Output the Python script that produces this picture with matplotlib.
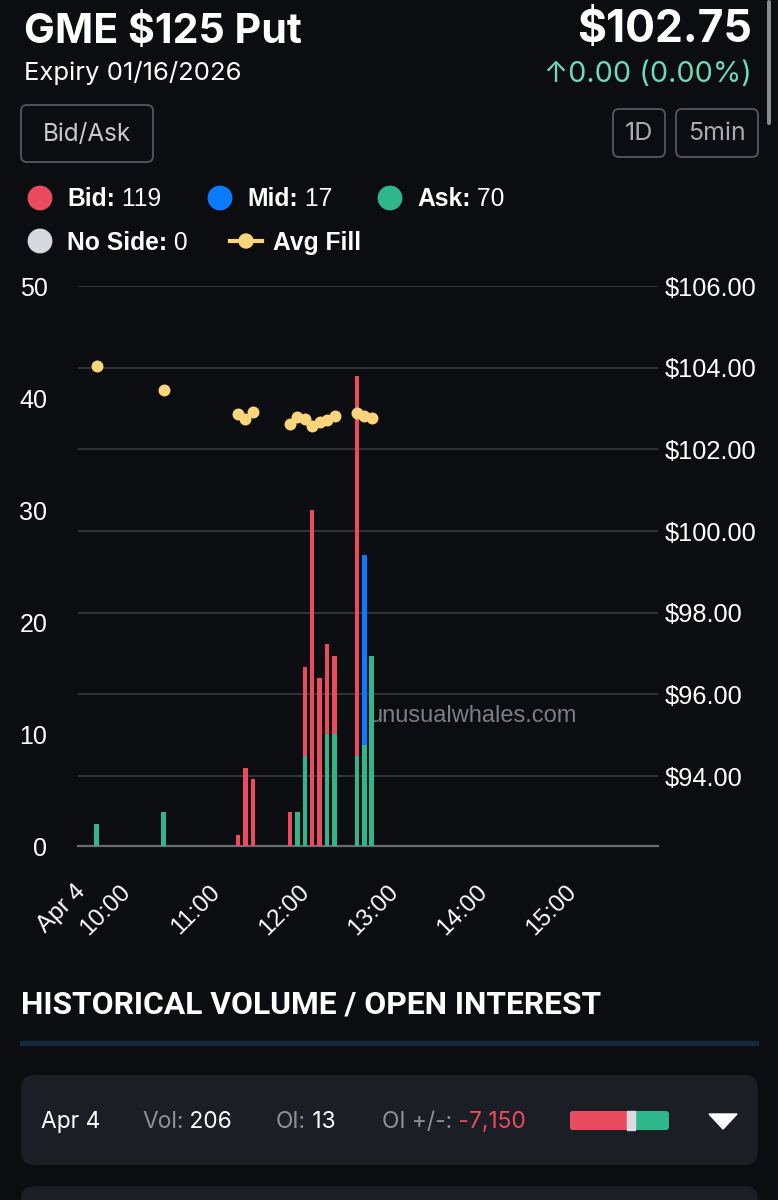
import matplotlib
matplotlib.use("Agg")
import matplotlib.pyplot as plt
from matplotlib.patches import FancyBboxPatch, Circle, Polygon, Rectangle
from matplotlib.transforms import ScaledTranslation
from matplotlib.lines import Line2D

# ---------------- data ----------------
times = ["09:40", "10:25", "11:15", "11:20", "11:25", "11:50", "11:55", "12:00",
         "12:05", "12:10", "12:15", "12:20", "12:35", "12:40", "12:45"]
ask = [2, 3, 0, 0, 0, 0, 3, 8, 0, 0, 10, 10, 8, 9, 17]
mid = [0, 0, 0, 0, 0, 0, 0, 0, 0, 0, 0, 0, 0, 17, 0]
bid = [0, 0, 1, 7, 6, 3, 0, 8, 30, 15, 8, 7, 34, 0, 0]
avg_fill = [104.03, 103.45, 102.87, 102.74, 102.92, 102.62, 102.78, 102.74,
            102.57, 102.66, 102.72, 102.82, 102.90, 102.82, 102.76]
no_side_total = 0

tick_times = ["09:30", "10:00", "11:00", "12:00", "13:00", "14:00", "15:00"]
tick_labels = ["Apr 4", "10:00", "11:00", "12:00", "13:00", "14:00", "15:00"]
vol_ticks = [0, 10, 20, 30, 40, 50]
price_ticks = [94, 96, 98, 100, 102, 104, 106]

title = "GME $125 Put"
expiry = "Expiry 01/16/2026"
last_price = "$102.75"
change_text = "0.00 (0.00%)"
hist_date = "Apr 4"
hist_vol = "206"
hist_oi = "13"
hist_oi_change = "-7,150"

# ---------------- style ----------------
BG = "#0c0d11"
RED = "#ea4b5f"
BLUE = "#0a7bff"
GREEN = "#2fb68b"
YELLOW = "#fbd47c"
NOSIDE = "#d6d9df"
GRID = "#303238"
TEAL = "#6fd9b5"
GRAY = "#8f9197"
CHART_FONT = ["Liberation Sans", "DejaVu Sans"]
HEAD_FONT = ["Inter", "DejaVu Sans"]
SECT_FONT = ["Roboto", "DejaVu Sans"]


def to_hours(s):
    h, m = s.split(":")
    return int(h) + int(m) / 60.0


hours = [to_hours(t) for t in times]
tick_hours = [to_hours(t) for t in tick_times]

fig = plt.figure(figsize=(7.78, 12), dpi=100)
fig.patch.set_facecolor(BG)

# UI overlay in pixel coordinates
ui = fig.add_axes([0, 0, 1, 1])
ui.set_xlim(0, 778)
ui.set_ylim(1200, 0)
ui.axis("off")
ui.set_zorder(0)


def T(x, y, s, size, color="white", weight="normal", ha="left", va="baseline",
      family=HEAD_FONT, **kw):
    return ui.text(x, y, s, fontsize=size, color=color, fontweight=weight,
                   ha=ha, va=va, family=family, **kw)


def chain(prev, s, size, color="white", weight="normal", family=CHART_FONT):
    return ui.annotate(s, xy=(1, 0), xycoords=prev, va="bottom", ha="left",
                       fontsize=size, color=color, fontweight=weight, family=family)


def rbox(x0, y0, x1, y1, r, fc="none", ec="none", lw=0):
    p = FancyBboxPatch((x0, y0), x1 - x0, y1 - y0,
                       boxstyle=f"round,pad=0,rounding_size={r}",
                       fc=fc, ec=ec, lw=lw)
    ui.add_patch(p)
    return p


# header
T(24, 43, title, 29.6, weight="bold")
T(24, 80, expiry, 18.5)
T(752, 42, last_price, 32, weight="bold", ha="right")
T(752, 82, "\u2191" + change_text, 20.8, color=TEAL, ha="right",
  family=["Inter", "DejaVu Sans"])

# scrollbar
rbox(767, 0, 771, 125, 2, fc="#8a8b8f")

# buttons
rbox(21, 105, 153, 162, 6, ec="#55585e", lw=1.3)
T(87, 134, "Bid/Ask", 17.5, color="#c9cacd", ha="center", va="center")
rbox(613, 109, 665, 157, 6, ec="#55585e", lw=1.3)
T(639, 133, "1D", 18, color="#a9abb0", ha="center", va="center")
rbox(676, 109, 758, 157, 6, ec="#55585e", lw=1.3)
T(717, 133, "5min", 18, color="#a9abb0", ha="center", va="center")

# legend
LS = 17.7
items_row1 = [(40, RED, "Bid:", sum(bid)), (220, BLUE, "Mid:", sum(mid)),
              (390, GREEN, "Ask:", sum(ask))]
for cx, col, lab, val in items_row1:
    ui.add_patch(Circle((cx, 198), 11.7, color=col))
    t = T(cx + 27, 206.5, lab, LS, weight="bold", family=CHART_FONT)
    chain(t, f" {val}", LS)
ui.add_patch(Circle((40, 241), 11.7, color=NOSIDE))
t = T(67, 250, "No Side:", LS, weight="bold", family=CHART_FONT)
chain(t, f" {no_side_total}", LS)
ui.add_line(Line2D([230, 262], [241, 241], color=YELLOW, lw=3))
ui.add_patch(Circle((246, 241), 7, color=YELLOW))
T(273, 250, "Avg Fill", LS, weight="bold", family=CHART_FONT)

# ---------------- chart ----------------
ax = fig.add_axes([78 / 778, 354 / 1200, 580 / 778, 560 / 1200])
ax2 = ax.twinx()
ax.set_zorder(ax2.get_zorder() + 1)
ax.patch.set_visible(False)
ax2.patch.set_visible(False)

bar_w = 0.05
bottom_mid = [a for a in ask]
bottom_bid = [a + m for a, m in zip(ask, mid)]
ax.bar(hours, ask, bar_w, color=GREEN, lw=0, zorder=3)
ax.bar(hours, mid, bar_w, bottom=bottom_mid, color=BLUE, lw=0, zorder=3)
ax.bar(hours, bid, bar_w, bottom=bottom_bid, color=RED, lw=0, zorder=3)

ax.set_xlim(9.5 - 2.5 / 60, 16.0 - 2.5 / 60)
ax.set_ylim(0, 50)
ax2.set_ylim(92.286, 106)
ax.autoscale(False)
ax.plot(hours, avg_fill, "o", ms=8.6, color=YELLOW, mec="none",
        transform=ax2.transData, zorder=5, clip_on=False)

for s in ax.spines.values():
    s.set_visible(False)
for s in ax2.spines.values():
    s.set_visible(False)
ax.spines["bottom"].set_visible(True)
ax.spines["bottom"].set_color("#6a6c71")
ax.spines["bottom"].set_linewidth(1.6)

ax.set_yticks(vol_ticks)
ax.set_yticklabels([str(v) for v in vol_ticks], family=CHART_FONT)
ax.tick_params(axis="y", length=0, pad=22, labelsize=18, labelcolor="white")

ax2.set_yticks(price_ticks)
ax2.set_yticklabels([f"${p:.2f}" for p in price_ticks], family=CHART_FONT)
ax2.tick_params(axis="y", length=0, pad=5, labelsize=18.3, labelcolor="white")
ax2.grid(True, axis="y", color=GRID, lw=1.5)
ax2.set_xticks([])

ax.set_xticks(tick_hours)
ax.set_xticklabels(tick_labels, rotation=45, ha="right", va="top",
                   rotation_mode="anchor", family=CHART_FONT)
ax.tick_params(axis="x", length=0, pad=25, labelsize=17.5, labelcolor="white")
off = ScaledTranslation(-7 / 100, 0, fig.dpi_scale_trans)
for lab in ax.get_xticklabels():
    lab.set_transform(lab.get_transform() + off)

# watermark
ax.text(0.502, 0.2214, "unusualwhales.com", transform=ax.transAxes, fontsize=17,
        color="#7b7e86", family=CHART_FONT, ha="left", va="baseline", zorder=2)

# ---------------- bottom section ----------------
T(21, 1013, "HISTORICAL VOLUME / OPEN INTEREST", 22.9, weight="bold",
  family=SECT_FONT)
ui.add_patch(Rectangle((20, 1041), 738, 4, color="#13283a"))
rbox(21, 1075, 758, 1165, 14, fc="#1c1e26")
rbox(21, 1186, 758, 1260, 14, fc="#1c1e26")

RS = 16.4
t = T(41, 1128, hist_date, RS)
t = T(142, 1128, "Vol:", RS, color=GRAY)
chain(t, " " + hist_vol, RS, family=HEAD_FONT)
t = T(276, 1128, "OI:", RS, color=GRAY)
chain(t, " " + hist_oi, RS, family=HEAD_FONT)
t = T(382, 1128, "OI +/-:", RS, color=GRAY)
chain(t, " " + hist_oi_change, RS, color=RED, family=HEAD_FONT)

# mini bid / mid / ask bar
total = sum(bid) + sum(mid) + sum(ask)
bx0, bx1, by0, by1 = 570, 669, 1111, 1130
rbox(bx0, by0, bx1, by1, 3, fc=GREEN)
wr = (bx1 - bx0) * sum(bid) / total
wm = (bx1 - bx0) * sum(mid) / total
rbox(bx0, by0, bx0 + wr + 3, by1, 3, fc=RED)
ui.add_patch(Rectangle((bx0 + wr, by0), wm, by1 - by0, color="#d9dbe0"))

ui.add_patch(Polygon([[709, 1114], [737, 1114], [723, 1129]], closed=True,
                     color="white"))

fig.savefig("out.png", dpi=100, facecolor=BG)
